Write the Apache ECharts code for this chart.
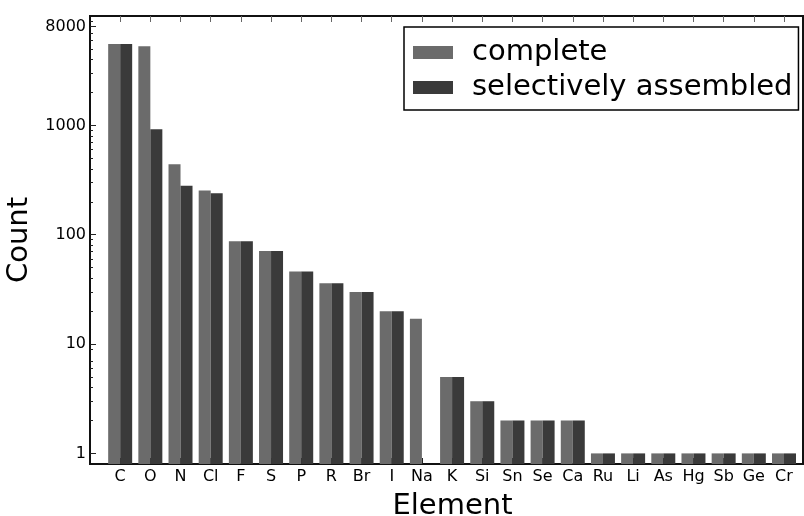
<!DOCTYPE html>
<html>
<head>
<meta charset="utf-8">
<script src="https://cdn.jsdelivr.net/npm/echarts@6/dist/echarts.min.js"></script>
<style>html,body{margin:0;padding:0;background:#fff;}#c{width:804px;height:516px;}</style>
</head>
<body>
<div id="c"></div>
<script>
const categories = ['C','O','N','Cl','F','S','P','R','Br','I','Na','K','Si','Sn','Se','Ca','Ru','Li','As','Hg','Sb','Ge','Cr'];
const complete  = [5550, 5300, 440, 254, 87, 71, 46, 36, 30, 20, 17, 5, 3, 2, 2, 2, 1, 1, 1, 1, 1, 1, 1];
const selective = [5550, 920, 280, 240, 87, 71, 46, 36, 30, 20, null, 5, 3, 2, 2, 2, 1, 1, 1, 1, 1, 1, 1];
const yMajorTicks = [1, 10, 100, 1000, 8000];
const yMinorTicks = [2,3,4,5,6,7,9, 20,30,40,50,60,70,80,90, 200,300,400,500,600,700,800,900, 2000,3000,4000,5000,6000,7000,9000];

const FONT = 'DejaVu Sans';
const xIdx = categories.map((c, i) => i);
const chart = echarts.init(document.getElementById('c'), null, {renderer: 'canvas'});

const yBase = {type: 'log', min: 0.8, max: 10000, logBase: 10, startValue: 0.8,
  splitLine: {show: false}, minorTick: {show: false}, minorSplitLine: {show: false}};
const xBase = {type: 'value', min: -1, max: 22.63, splitLine: {show: false}};

chart.setOption({
  animation: false,
  backgroundColor: '#fff',
  textStyle: {fontFamily: FONT},
  grid: {left: 90, right: 1, top: 16, bottom: 52, containLabel: false, outerBoundsMode: 'none',
    show: true, borderColor: '#111', borderWidth: 2, backgroundColor: 'transparent'},
  legend: {
    orient: 'vertical', left: 404, top: 27,
    padding: [8, 6, 5, 9],
    borderColor: '#000', borderWidth: 1.5, borderRadius: 0,
    itemWidth: 40, itemHeight: 13, itemGap: 0, icon: 'rect',
    textStyle: {fontFamily: FONT, fontSize: 29, color: '#000', lineHeight: 35, padding: [0, 0, 0, 14]},
    data: ['complete', 'selectively assembled']
  },
  xAxis: [
    Object.assign({}, xBase, {
      position: 'bottom',
      name: 'Element', nameLocation: 'middle', nameGap: 28,
      nameTextStyle: {fontFamily: FONT, fontSize: 29, color: '#000', padding: [0, 0, 0, 12]},
      axisLine: {show: true, onZero: false, lineStyle: {color: '#111', width: 2}},
      axisTick: {show: true, inside: true, length: 6, customValues: xIdx, lineStyle: {color: '#222', width: 1}},
      axisLabel: {show: true, customValues: xIdx, margin: 5, fontFamily: FONT, fontSize: 16, color: '#000',
        formatter: v => categories[Math.round(v)] || ''}
    }),
    Object.assign({}, xBase, {
      position: 'top',
      axisLine: {show: true, onZero: false, lineStyle: {color: '#111', width: 2}},
      axisTick: {show: true, inside: true, length: 6, customValues: xIdx, lineStyle: {color: '#666', width: 1}},
      axisLabel: {show: false}
    })
  ],
  yAxis: [
    Object.assign({}, yBase, {
      position: 'left',
      name: 'Count', nameLocation: 'middle', nameGap: 52, nameRotate: 90,
      nameTextStyle: {fontFamily: FONT, fontSize: 29, color: '#000'},
      axisLine: {show: true, onZero: false, lineStyle: {color: '#111', width: 2}},
      axisTick: {show: true, inside: true, length: 6, customValues: yMajorTicks, lineStyle: {color: '#222', width: 1}},
      axisLabel: {show: true, customValues: yMajorTicks, margin: 4, fontFamily: FONT, fontSize: 16, color: '#000',
        formatter: v => String(Math.round(v))}
    }),
    Object.assign({}, yBase, {
      position: 'left',
      axisLine: {show: false, onZero: false},
      axisTick: {show: true, inside: true, length: 3, customValues: yMinorTicks, lineStyle: {color: '#222', width: 1}},
      axisLabel: {show: false}
    })
  ],
  series: [
    {
      name: 'complete', type: 'bar', xAxisIndex: 0, yAxisIndex: 0,
      barWidth: 12, barGap: '0%',
      itemStyle: {color: '#6b6b6b'},
      data: complete.map((v, i) => [i, v])
    },
    {
      name: 'selectively assembled', type: 'bar', xAxisIndex: 0, yAxisIndex: 0,
      barWidth: 12, barGap: '0%',
      itemStyle: {color: '#3a3a3a'},
      data: selective.map((v, i) => [i, v])
    }
  ]
});
</script>
</body>
</html>
